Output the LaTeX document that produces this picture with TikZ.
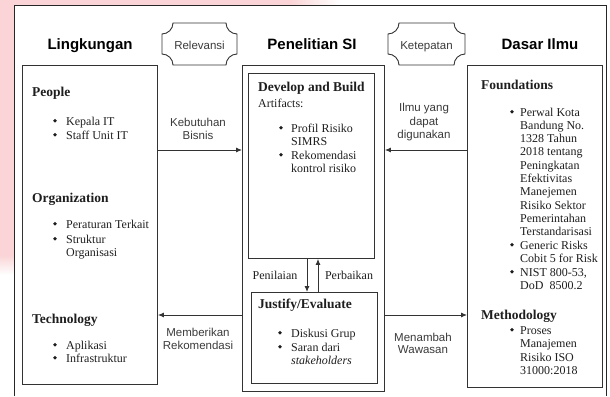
\documentclass[tikz,border=0pt]{standalone}
\usepackage{fontspec}
\setmainfont{Liberation Serif}
\setsansfont{Liberation Sans}
\usetikzlibrary{arrows.meta}
\definecolor{ln}{HTML}{333333}
\definecolor{tx}{HTML}{1E1E1E}
\definecolor{lbl}{HTML}{3A3A3A}
\definecolor{pinkbg}{RGB}{250,212,214}
\begin{document}
\begin{tikzpicture}[x=1pt,y=-1pt,
  txt/.style={anchor=base west, inner sep=0, text=tx, font=\fontsize{12}{14}\selectfont},
  ctr/.style={anchor=base, inner sep=0, text=tx, font=\fontsize{12}{14}\selectfont},
  hd/.style={anchor=base west, inner sep=0, text=tx, font=\fontsize{13.5}{16}\selectfont\bfseries},
  bul/.style={circle, fill=tx, inner sep=0, minimum size=3.8pt, yshift=4.2pt},
  lab/.style={anchor=base, inner sep=0, text=lbl, font=\sffamily\fontsize{11.5}{14}\selectfont},
  ttl/.style={anchor=base, inner sep=0, text=black, font=\sffamily\bfseries\fontsize{15}{18}\selectfont},
  box/.style={draw=ln, line width=0.9pt, anchor=north west, inner sep=0},
  arr/.style={draw=ln, line width=0.9pt, -{Latex[length=6pt,width=5pt]}}]
\useasboundingbox (0,0) rectangle (610,396);
% background artefact
\fill[pinkbg] (0,0) rectangle (14,255);
\shade[top color=pinkbg,bottom color=white] (0,255) rectangle (14,275);
\fill[pinkbg] (14,0) rectangle (290,6);
\shade[left color=pinkbg,right color=white] (290,0) rectangle (340,6);
% outer frame
\draw[black!85, line width=1pt] (14,396) -- (14,6) -- (606,6) -- (606,396);

% titles
\node[ttl] (tl) at (90,49.5) {Lingkungan};
\node[ttl] (tm) at (312,49.5) {Penelitian SI};
\node[ttl] (tr) at (540,49.5) {Dasar Ilmu};

% plaques
\foreach \xa/\xb/\nm/\tt in {162/237/rel/Relevansi, 388/465/ket/Ketepatan}{
  \draw[ln,line width=0.9pt] (\xa,34) .. controls ({\xa+6},34) and ({\xa+11},29) .. ({\xa+11},23)
    -- ({\xb-11},23) .. controls ({\xb-11},29) and ({\xb-6},34) .. (\xb,34)
    -- (\xb,54) .. controls ({\xb-6},54) and ({\xb-11},59) .. ({\xb-11},65)
    -- ({\xa+11},65) .. controls ({\xa+11},59) and ({\xa+6},54) .. (\xa,54) -- cycle;
  \node[lab] (\nm) at ({(\xa+\xb)/2},49) {\tt};
}

% boxes
\node[box, minimum width=135pt, minimum height=319pt] (env) at (22,65) {};
\node[box, minimum width=142pt, minimum height=326pt] (mid) at (242,65) {};
\node[box, minimum width=126pt, minimum height=185pt] (dev) at (248,73) {};
\node[box, minimum width=126pt, minimum height=91pt] (jus) at (251,292) {};
\node[box, minimum width=135pt, minimum height=322pt] (kb) at (467,65) {};

% left box content
\node[hd] (ppl) at (32,96) {People};
\node[bul] (b1) at (55,125) {};
\node[txt] (t1) at (66,125) {Kepala IT};
\node[bul] (b2) at (55,139) {};
\node[txt] (t2) at (66,139) {Staff Unit IT};
\node[hd] (org) at (32,202) {Organization};
\node[bul] (b3) at (55,228) {};
\node[txt] (t3) at (66,228) {Peraturan Terkait};
\node[bul] (b4) at (55,243) {};
\node[txt] (t4) at (66,243) {Struktur};
\node[txt] (t4b) at (66,256) {Organisasi};
\node[hd] (tech) at (32,323) {Technology};
\node[bul] (b5) at (55,349) {};
\node[txt] (t5) at (66,349) {Aplikasi};
\node[bul] (b6) at (55,362) {};
\node[txt] (t6) at (66,362) {Infrastruktur};

% middle content
\node[hd] (dab) at (258,91) {Develop and Build};
\node[txt] (art) at (258,107) {Artifacts:};
\node[bul] (b7) at (281,132) {};
\node[txt] (t7) at (291,132) {Profil Risiko};
\node[txt] (t7b) at (291,145) {SIMRS};
\node[bul] (b8) at (281,159) {};
\node[txt] (t8) at (291,159) {Rekomendasi};
\node[txt] (t8b) at (291,172) {kontrol risiko};
\node[hd] (jev) at (258,308) {Justify/Evaluate};
\node[bul] (b9) at (280,337) {};
\node[txt] (t9) at (291,337) {Diskusi Grup};
\node[bul] (b10) at (280,351) {};
\node[txt] (t10) at (291,351) {Saran dari};
\node[txt] (t10b) at (291,364) {\itshape stakeholders};
\node[ctr] (pen) at (275,279) {Penilaian};
\node[ctr] (per) at (349,279) {Perbaikan};

% right content
\node[hd] (fnd) at (481,89) {Foundations};
\node[bul] (b11) at (512,116) {};
\foreach \t [count=\i from 0] in {Perwal Kota, Bandung No., 1328 Tahun, 2018 tentang, Peningkatan, Efektivitas, Manejemen, Risiko Sektor, Pemerintahan, Terstandarisasi}
  \node[txt] (f\i) at (520,{116+13.33*\i}) {\t};
\node[bul] (b12) at (512,249) {};
\node[txt] (g1) at (520,249) {Generic Risks};
\node[txt] (g2) at (520,262) {Cobit 5 for Risk};
\node[bul] (b13) at (512,276) {};
\node[txt] (n1) at (520,276) {NIST 800-53,};
\node[txt] (n2) at (520,289) {DoD\ \ 8500.2};
\node[hd] (met) at (481,319) {Methodology};
\node[bul] (b14) at (512,334) {};
\node[txt] (m1) at (520,334) {Proses};
\node[txt] (m2) at (520,347) {Manajemen};
\node[txt] (m3) at (520,361) {Risiko ISO};
\node[txt] (m4) at (520,374) {31000:2018};

% arrow labels
\node[lab] (k1) at (198,126) {Kebutuhan};
\node[lab] (k2) at (198,139) {Bisnis};
\node[lab] (r1) at (198,336) {Memberikan};
\node[lab] (r2) at (198,349) {Rekomendasi};
\node[lab] (i1) at (424,111) {Ilmu yang};
\node[lab] (i2) at (424,125) {dapat};
\node[lab] (i3) at (424,138) {digunakan};
\node[lab] (w1) at (423,341) {Menambah};
\node[lab] (w2) at (423,353) {Wawasan};

% connectors
\coordinate (yk) at (0,150);
\coordinate (ym) at (0,315);
\coordinate (px) at (307,0);
\coordinate (qx) at (318,0);
\draw[arr] (env.east |- yk) -- (mid.west |- yk);
\draw[arr] (mid.west |- ym) -- (env.east |- ym);
\draw[arr] (kb.west |- yk) -- (mid.east |- yk);
\draw[arr] (mid.east |- ym) -- (kb.west |- ym);
\draw[arr] (dev.south -| px) -- (jus.north -| px);
\draw[arr] (jus.north -| qx) -- (dev.south -| qx);
\end{tikzpicture}
\end{document}
